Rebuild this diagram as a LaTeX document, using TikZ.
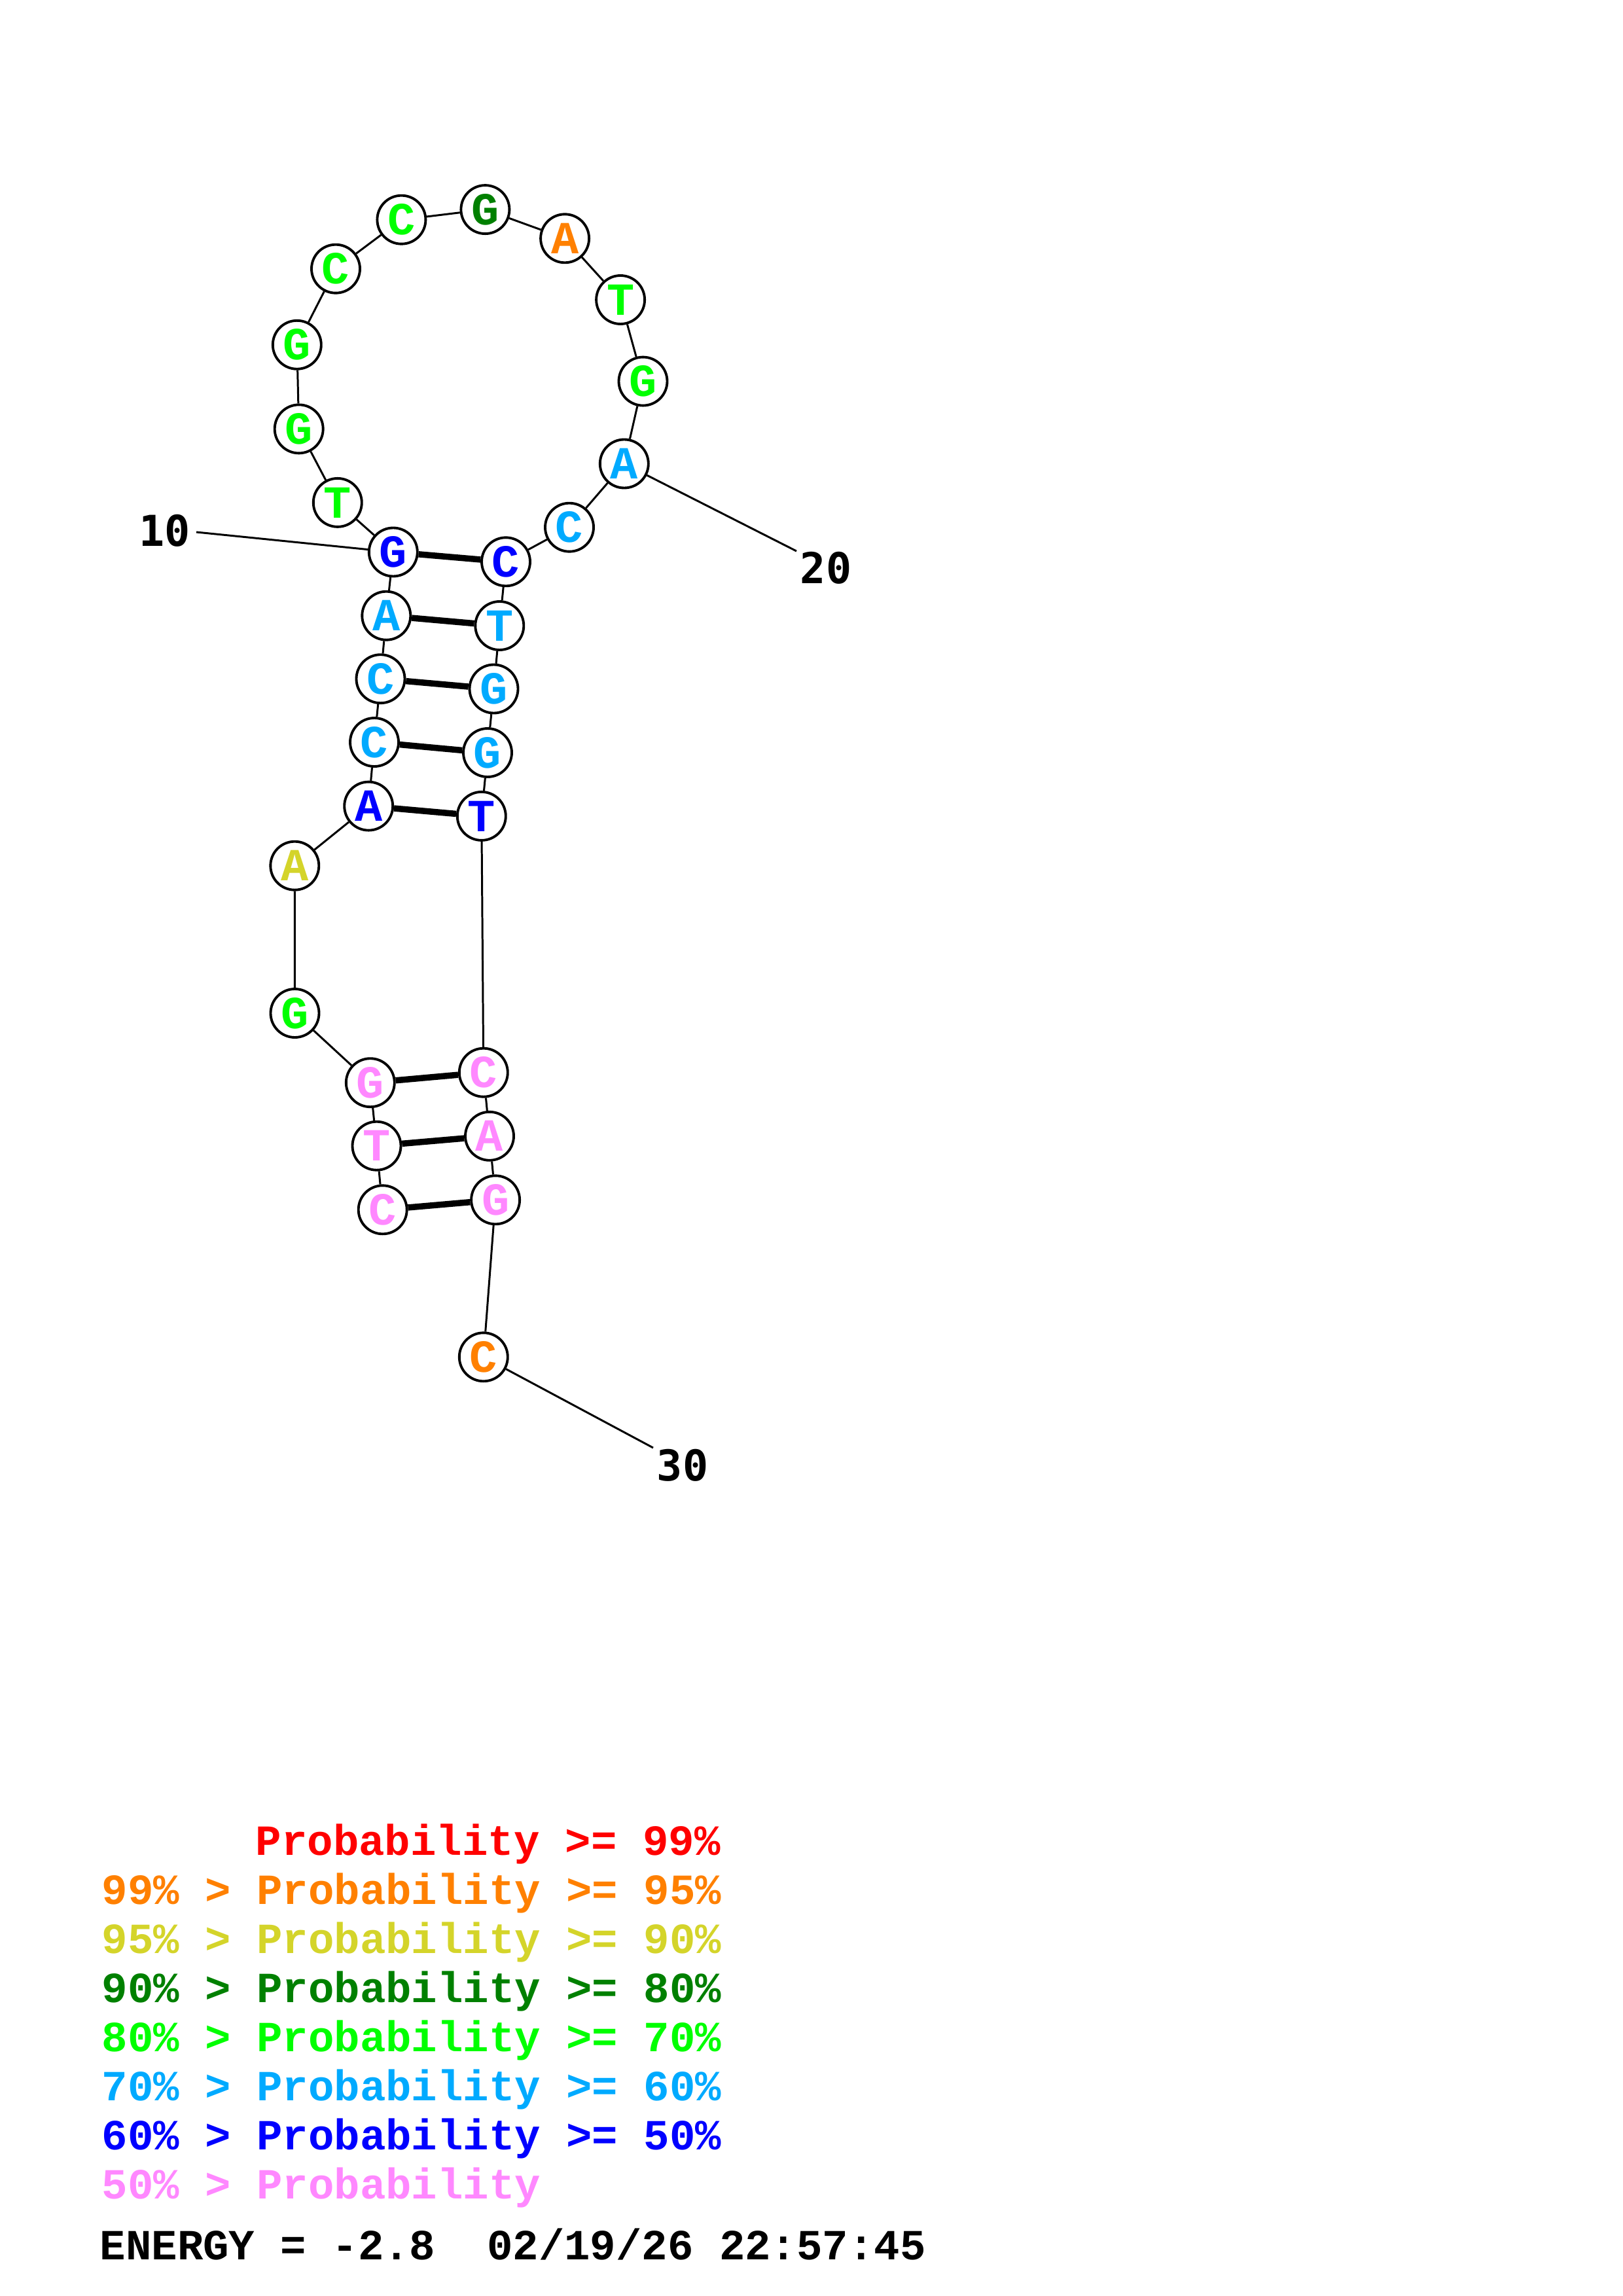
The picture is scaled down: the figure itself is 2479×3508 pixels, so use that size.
\documentclass[tikz,border=0pt]{standalone}
\usepackage{fontspec}
\setmonofont{Liberation Mono}
\newfontfamily\numfont{DejaVu Sans Mono}
\usepackage{tikz}
\usetikzlibrary{positioning}

\definecolor{pprob}{RGB}{255,0,0}
\definecolor{porange}{RGB}{255,128,0}
\definecolor{pyellow}{RGB}{212,212,42}
\definecolor{pdkgreen}{RGB}{0,128,0}
\definecolor{pgreen}{RGB}{0,255,0}
\definecolor{pltblue}{RGB}{0,170,255}
\definecolor{pblue}{RGB}{0,0,255}
\definecolor{ppink}{RGB}{255,136,255}

\tikzset{
    base/.style={
        circle,
        minimum size=7.4mm,
        inner sep=0pt,
        draw=black,
        fill=white,
        line width=1.1pt,
        font=\ttfamily\bfseries\fontsize{20}{20}\selectfont
    },
    backbone/.style={
        line width=0.85pt
    },
    pairline/.style={
        line width=2.7pt
    },
    numlabel/.style={
        inner sep=0pt,
        font=\numfont\bfseries\fontsize{18.5}{20}\selectfont
    },
    legend/.style={
        anchor=base west,
        inner sep=0pt,
        font=\ttfamily\bfseries\fontsize{18.7}{20}\selectfont
    }
}

\begin{document}
\begin{tikzpicture}[x=0.1mm, y=-0.1mm]

\useasboundingbox (0,0) rectangle (2479,3508);

% Bases
\node (n1) [base, text=ppink] at (584.7,1848.3) {C};
\node (n2) [base, text=ppink] at (575.5,1750.7) {T};
\node (n3) [base, text=ppink] at (565.8,1654.2) {G};
\node (n4) [base, text=pgreen] at (450.5,1548.0) {G};
\node (n5) [base, text=pyellow] at (450.3,1322.7) {A};
\node (n6) [base, text=pblue] at (563.2,1231.6) {A};
\node (n7) [base, text=pltblue] at (572.0,1134.0) {C};
\node (n8) [base, text=pltblue] at (581.5,1037.2) {C};
\node (n9) [base, text=pltblue] at (590.3,940.7) {A};
\node (n10) [base, text=pblue] at (600.8,843.5) {G};
\node (n11) [base, text=pgreen] at (515.8,767.9) {T};
\node (n12) [base, text=pgreen] at (456.7,655.4) {G};
\node (n13) [base, text=pgreen] at (453.8,526.8) {G};
\node (n14) [base, text=pgreen] at (513.0,410.7) {C};
\node (n15) [base, text=pgreen] at (613.4,335.7) {C};
\node (n16) [base, text=pdkgreen] at (741.4,320.1) {G};
\node (n17) [base, text=porange] at (863.1,364.3) {A};
\node (n18) [base, text=pgreen] at (948.1,458.0) {T};
\node (n19) [base, text=pgreen] at (982.5,582.6) {G};
\node (n20) [base, text=pltblue] at (953.8,708.5) {A};
\node (n21) [base, text=pltblue] at (870.0,805.7) {C};
\node (n22) [base, text=pblue] at (773.0,858.3) {C};
\node (n23) [base, text=pltblue] at (763.3,956.0) {T};
\node (n24) [base, text=pltblue] at (754.5,1052.5) {G};
\node (n25) [base, text=pltblue] at (745.0,1150.0) {G};
\node (n26) [base, text=pblue] at (735.8,1246.9) {T};
\node (n27) [base, text=ppink] at (738.8,1638.7) {C};
\node (n28) [base, text=ppink] at (748.0,1735.8) {A};
\node (n29) [base, text=ppink] at (757.1,1833.3) {G};
\node (n30) [base, text=porange] at (738.8,2073.3) {C};

% Backbone
\draw[backbone] (n1) -- (n2) -- (n3) -- (n4) -- (n5) -- (n6) -- (n7) -- (n8) -- (n9) -- (n10);
\draw[backbone] (n10) -- (n11) -- (n12) -- (n13) -- (n14) -- (n15) -- (n16) -- (n17) -- (n18) -- (n19) -- (n20);
\draw[backbone] (n20) -- (n21) -- (n22) -- (n23) -- (n24) -- (n25) -- (n26) -- (n27) -- (n28) -- (n29) -- (n30);

% Pairs
\draw[pairline] (n1) -- (n29);
\draw[pairline] (n2) -- (n28);
\draw[pairline] (n3) -- (n27);
\draw[pairline] (n6) -- (n26);
\draw[pairline] (n7) -- (n25);
\draw[pairline] (n8) -- (n24);
\draw[pairline] (n9) -- (n23);
\draw[pairline] (n10) -- (n22);

% Position labels
\node (l10) [numlabel] at (252,811) {10};
\node (l20) [numlabel] at (1262,868) {20};
\node (l30) [numlabel] at (1043,2239) {30};
\coordinate (c10) at (300,813);
\coordinate (c20) at (1217,842);
\coordinate (c30) at (998,2212);
\draw[backbone] (c10) -- (n10);
\draw[backbone] (n20) -- (c20);
\draw[backbone] (n30) -- (c30);

% Legend
\node (p1) [legend, text=pprob] at (390,2834) {Probability >= 99\%};
\node (p2) [legend, text=porange] at (155,2909) {99\% > Probability >= 95\%};
\node (p3) [legend, text=pyellow] at (155,2984) {95\% > Probability >= 90\%};
\node (p4) [legend, text=pdkgreen] at (155,3059) {90\% > Probability >= 80\%};
\node (p5) [legend, text=pgreen] at (155,3134) {80\% > Probability >= 70\%};
\node (p6) [legend, text=pltblue] at (155,3209) {70\% > Probability >= 60\%};
\node (p7) [legend, text=pblue] at (155,3284) {60\% > Probability >= 50\%};
\node (p8) [legend, text=ppink] at (155,3359) {50\% > Probability};

% Energy
\node (energy) [legend, text=black] at (152,3452) {ENERGY = -2.8\ \ 02/19/26 22:57:45};

\end{tikzpicture}
\end{document}
